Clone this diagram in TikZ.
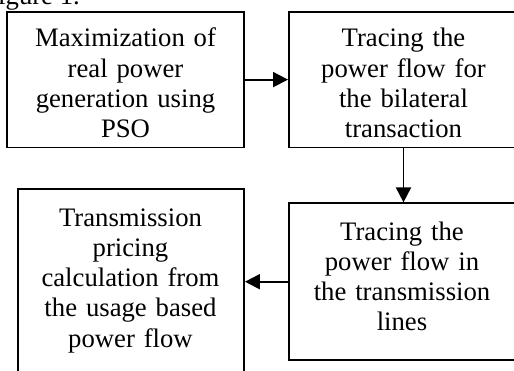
\documentclass[tikz,border=0pt]{standalone}
\usepackage{fontspec}
\setmainfont{Liberation Serif}
\usetikzlibrary{arrows.meta}
\begin{document}
\begin{tikzpicture}[x=1pt,y=-1pt,
  box/.style={draw, line width=1.9pt, rectangle, inner sep=0pt},
  txt/.style={text width=240pt, align=center, inner sep=0pt, anchor=base,
    font=\fontsize{26.7}{30.3}\selectfont},
  conn/.style={line width=1.9pt, -{Triangle[length=15pt,width=15pt]}}]
\useasboundingbox (0,0) rectangle (514,370);
\clip (0,0) rectangle (514,370);
% caption fragment
\node[anchor=base east, inner sep=0pt, font=\fontsize{26.7}{30.3}\selectfont] (cap) at (80,4) {Figure 1.};
% boxes
\node[box, minimum width=236.7pt, minimum height=135.8pt] (b1) at (125.6,79.6) {};
\node[box, minimum width=229pt, minimum height=135.8pt] (b2) at (403.5,79.6) {};
\node[box, minimum width=229pt, minimum height=156.7pt] (b3) at (403.5,281.7) {};
\node[box, minimum width=226pt, minimum height=191pt] (b4) at (131,284.5) {};
% texts
\node[txt] (t1) at (125.5,46.7) {Maximization of\\real power\\generation using\\PSO};
\node[txt] (t2) at (403.5,46.7) {Tracing the\\power flow for\\the bilateral\\transaction};
\node[txt] (t3) at (402,240) {Tracing the\\power flow in\\the transmission\\lines};
\node[txt] (t4) at (130.5,226) {Transmission\\pricing\\calculation from\\the usage based\\power flow};
% connectors
\draw[conn] (b1) -- (b2);
\draw[conn] (b2) -- (b3);
\draw[conn] (b3.west) -- (b3.west -| b4.east);
\end{tikzpicture}
\end{document}
